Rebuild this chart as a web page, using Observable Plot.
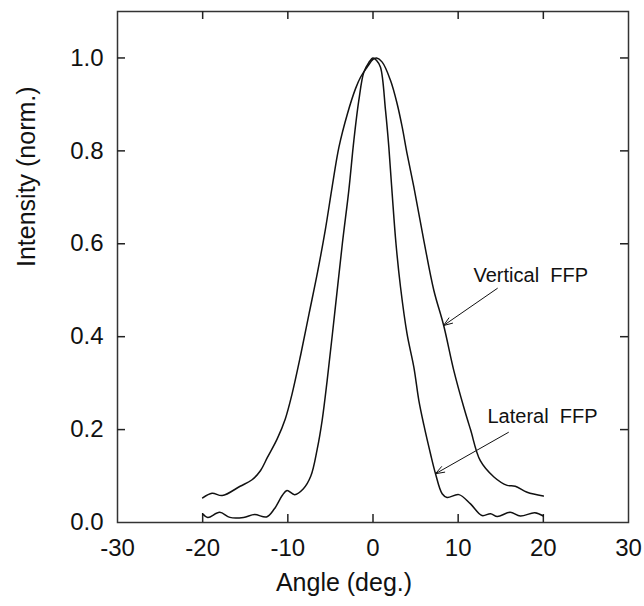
<!DOCTYPE html>
<html><head><meta charset="utf-8">
<script src="https://cdn.jsdelivr.net/npm/d3@7"></script>
<script src="https://cdn.jsdelivr.net/npm/@observablehq/plot@0.6"></script>
<style>
body{margin:0;background:#fff}
svg text{white-space:pre}
</style>
</head><body><div id="chart"></div>
<script>
// Vertical FFP (wider curve)
const verticalX = [-20, -18.9, -17.7, -15.6, -14.2, -13.2, -12.4, -11.25, -10.3, -9.5, -8.5, -7.5, -6.5, -5.6, -4.8, -4.0, -3.0, -2.05, -1.45, -0.7, 0, 0.4, 1.08, 2.05, 2.84, 3.43, 4.0, 4.8, 5.97, 7.14, 8.3, 9.49, 10.66, 11.45, 12.6, 14.2, 15.75, 16.7, 18.1, 20];
const verticalY = [0.053, 0.063, 0.058, 0.078, 0.092, 0.112, 0.14, 0.18, 0.223, 0.277, 0.36, 0.45, 0.54, 0.63, 0.722, 0.808, 0.88, 0.934, 0.959, 0.98, 0.997, 1.0, 0.991, 0.952, 0.901, 0.851, 0.794, 0.722, 0.607, 0.50, 0.424, 0.327, 0.248, 0.2, 0.133, 0.098, 0.080, 0.078, 0.065, 0.057];
// Lateral FFP (narrower curve)
const lateralX = [-20, -19.4, -18.0, -16.8, -15.2, -13.9, -12.5, -11.6, -10.66, -10.1, -9.2, -8.2, -7.3, -6.55, -5.97, -5.38, -4.5, -3.6, -2.84, -2.25, -1.67, -1.08, -0.5, 0, 0.4, 0.88, 1.47, 1.86, 2.25, 2.7, 3.23, 4.0, 4.8, 5.38, 5.97, 6.75, 7.34, 8.12, 8.7, 10.08, 11.45, 12.8, 13.8, 14.6, 16.1, 17.3, 19.0, 20];
const lateralY = [0.019, 0.011, 0.022, 0.011, 0.011, 0.017, 0.012, 0.029, 0.058, 0.069, 0.06, 0.072, 0.10, 0.158, 0.22, 0.306, 0.45, 0.6, 0.715, 0.822, 0.908, 0.969, 0.99, 1.0, 0.995, 0.98, 0.887, 0.808, 0.708, 0.6, 0.507, 0.406, 0.334, 0.263, 0.21, 0.148, 0.105, 0.062, 0.054, 0.06, 0.040, 0.015, 0.019, 0.013, 0.022, 0.014, 0.021, 0.014];

const xTickLabels = [-30, -20, -10, 0, 10, 20, 30];
const yTickLabels = [0, 0.2, 0.4, 0.6, 0.8, 1.0];
const xInnerTicks = [-20, -10, 0, 10, 20];
const yInnerTicks = [0.2, 0.4, 0.6, 0.8, 1.0];

const annLabels = ["Vertical  FFP", "Lateral  FFP"];
const annTextX = [11.8, 13.44];
const annTextY = [0.531, 0.228];
const arrowX1 = [14.6, 15.9];
const arrowY1 = [0.504, 0.194];
const arrowX2 = [8.28, 7.34];
const arrowY2 = [0.424, 0.105];

const xTitle = "Angle (deg.)";
const yTitle = "Intensity (norm.)";

const vertical = verticalX.map((x, i) => ({x, y: verticalY[i]}));
const lateral = lateralX.map((x, i) => ({x, y: lateralY[i]}));
const ann = annLabels.map((t, i) => ({t, x: annTextX[i], y: annTextY[i], x1: arrowX1[i], y1: arrowY1[i], x2: arrowX2[i], y2: arrowY2[i]}));

const W = 644, H = 606, ML = 117, MR = 16, MT = 11, MB = 84;
const TL = 8;
const innerW = W - ML - MR, innerH = H - MT - MB;
const ink = "#111";
const tickStyle = {stroke: "#222", strokeWidth: 1.5};

const chart = Plot.plot({
  width: W,
  height: H,
  marginLeft: ML,
  marginRight: MR,
  marginTop: MT,
  marginBottom: MB,
  style: {fontFamily: "'Liberation Sans', Arial, sans-serif", background: "#fff", color: ink},
  x: {domain: [-30, 30]},
  y: {domain: [0, 1.1]},
  marks: [
    Plot.axisX({anchor: "bottom", ticks: xTickLabels, tickSize: 0, tickPadding: 16, tickFormat: d => String(d), fontSize: 24, label: null}),
    Plot.axisY({anchor: "left", ticks: yTickLabels, tickSize: 0, tickPadding: 14, tickFormat: d => d.toFixed(1), fontSize: 24, label: null}),
    Plot.frame({stroke: "#333", strokeWidth: 1.5}),
    Plot.tickX(xInnerTicks, {x: d => d, insetTop: innerH - TL, ...tickStyle}),
    Plot.tickX(xInnerTicks, {x: d => d, insetBottom: innerH - TL, ...tickStyle}),
    Plot.tickY(yInnerTicks, {y: d => d, insetRight: innerW - TL, ...tickStyle}),
    Plot.tickY(yInnerTicks, {y: d => d, insetLeft: innerW - TL, ...tickStyle}),
    Plot.line(vertical, {x: "x", y: "y", curve: "catmull-rom", stroke: ink, strokeWidth: 1.5}),
    Plot.line(lateral, {x: "x", y: "y", curve: "catmull-rom", stroke: ink, strokeWidth: 1.5}),
    Plot.arrow(ann, {x1: "x1", y1: "y1", x2: "x2", y2: "y2", stroke: ink, strokeWidth: 1, headLength: 14, headAngle: 40}),
    Plot.text(ann, {x: "x", y: "y", text: "t", textAnchor: "start", fontSize: 20, fill: ink}),
    Plot.text([xTitle], {frameAnchor: "bottom", dx: -29, dy: 68, fontSize: 25, fill: ink}),
    Plot.text([yTitle], {frameAnchor: "left", dx: -91, rotate: -90, fontSize: 25, fill: ink})
  ]
});
document.getElementById("chart").appendChild(chart);
</script>
</body></html>
